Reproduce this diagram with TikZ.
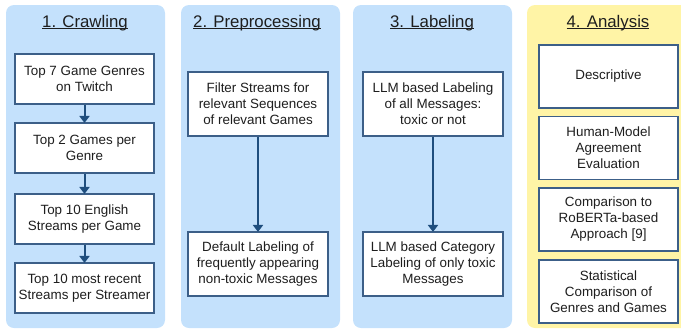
\documentclass[tikz,border=0pt]{standalone}
\usepackage{fontspec}
\setmainfont{Liberation Sans}
\usetikzlibrary{arrows.meta}
\definecolor{panelblue}{HTML}{C4E1FC}
\definecolor{panelyellow}{HTML}{FFF4A6}
\definecolor{boxline}{HTML}{3C5F88}
\definecolor{flowblue}{HTML}{1F4E7E}
\definecolor{textgray}{HTML}{1E1E1E}
\newcommand\ultitle[1]{\setbox0\hbox{#1}\rlap{\rule[-2pt]{\wd0}{0.9pt}}\box0}
\tikzset{
    panel/.style={rounded corners=8pt, draw=none},
    stepbox/.style={draw=boxline, line width=1.1pt, fill=white, align=center,
            text=textgray, inner sep=2pt, minimum width=139pt,
            font=\fontsize{13.4}{16}\selectfont},
    steptitle/.style={anchor=base, text=textgray, inner sep=0pt,
            font=\fontsize{16.8}{20}\selectfont},
    flow/.style={draw=flowblue, line width=2pt,
            -{Triangle[width=10pt,length=7pt]}, shorten >=-0.5pt},
}
\begin{document}
\begin{tikzpicture}[x=1pt, y=-1pt]
        \useasboundingbox (0, 0) rectangle (681, 330);
        \clip (0, 0) rectangle (681, 330);
        %draw the four panels
        \fill[panel, panelblue] (6, 5) rectangle (165, 328);
        \fill[panel, panelblue] (181, 5) rectangle (340, 328);
        \fill[panel, panelblue] (353, 5) rectangle (512, 328);
        \fill[panel, panelyellow] (527, 5) rectangle (695, 328);
        %label panels
        \node[steptitle] (crawltitle) at (85, 27) {\ultitle{1. Crawling}};
        \node[steptitle] (preptitle) at (257, 27) {\ultitle{2. Preprocessing}};
        \node[steptitle] (labeltitle) at (432, 27) {\ultitle{3. Labeling}};
        \node[steptitle] (analysistitle) at (608, 27) {\ultitle{4. Analysis}};
        %crawling steps
        \node[stepbox, minimum height=50pt] (genres) at (84.5, 79) {Top 7 Game Genres\\on Twitch};
        \node[stepbox, minimum height=50pt] (games) at (84.5, 148) {Top 2 Games per\\Genre};
        \node[stepbox, minimum height=50pt] (streams) at (84.5, 219) {Top 10 English\\Streams per Game};
        \node[stepbox, minimum height=50pt] (recent) at (84.5, 288) {Top 10 most recent\\Streams per Streamer};
        \draw[flow] (genres) -- (games);
        \draw[flow] (games) -- (streams);
        \draw[flow] (streams) -- (recent);
        %preprocessing steps
        \node[stepbox, minimum width=140pt, minimum height=64pt] (filter) at (258, 104) {Filter Streams for\\relevant Sequences\\of relevant Games};
        \node[stepbox, minimum width=140pt, minimum height=64pt] (default) at (258, 264) {Default Labeling of\\frequently appearing\\non-toxic Messages};
        \draw[flow] (filter) -- (default);
        %labeling steps
        \node[stepbox, minimum width=140pt, minimum height=64pt] (toxic) at (433, 104) {LLM based Labeling\\of all Messages:\\toxic or not};
        \node[stepbox, minimum width=140pt, minimum height=64pt] (category) at (433, 264) {LLM based Category\\Labeling of only toxic\\Messages};
        \draw[flow] (toxic) -- (category);
        %analysis parts
        \node[stepbox, minimum height=63pt] (descriptive) at (608.5, 76.5) {Descriptive};
        \node[stepbox, minimum height=63pt] (agreement) at (608.5, 148) {Human-Model\\Agreement\\Evaluation};
        \node[stepbox, minimum height=63pt] (roberta) at (608.5, 219.5) {Comparison to\\RoBERTa-based\\Approach [9]};
        \node[stepbox, minimum height=63pt] (statistical) at (608.5, 291.5) {Statistical\\Comparison of\\Genres and Games};
    \end{tikzpicture}
\end{document}
